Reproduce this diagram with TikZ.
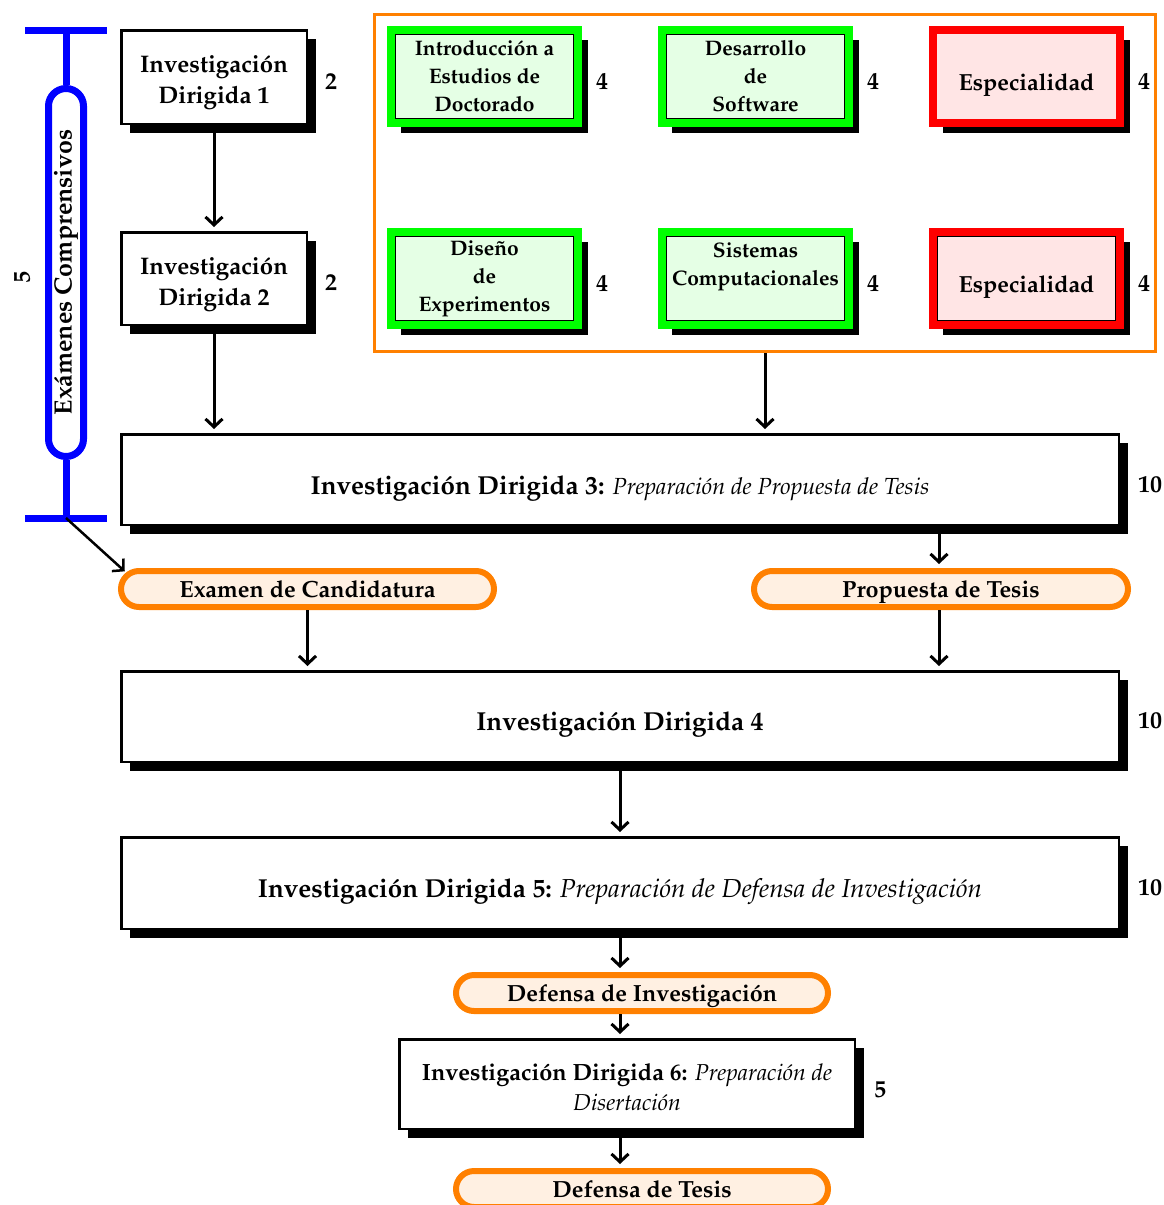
\documentclass[tikz,border=0pt]{standalone}
\usepackage[T1]{fontenc}
\usepackage{mathpazo}
\usetikzlibrary{shadows,shapes.misc,arrows.meta}
\definecolor{cOrange}{RGB}{255,128,0}
\definecolor{cGreen}{RGB}{0,255,0}
\definecolor{cRed}{RGB}{255,0,0}
\definecolor{cBlue}{RGB}{0,0,255}
\definecolor{fGreen}{RGB}{229,255,229}
\definecolor{fRed}{RGB}{255,229,229}
\definecolor{fOrange}{RGB}{255,240,226}
\newcommand\fBig{\fontsize{24}{31}\selectfont\bfseries}
\newcommand\fHuge{\fontsize{26}{31}\selectfont\bfseries}
\newcommand\fSmall{\fontsize{21}{28}\selectfont\bfseries}
\newcommand\fSpec{\fontsize{23.3}{28}\selectfont\bfseries}
\newcommand\fPill{\fontsize{23.4}{28}\selectfont\bfseries}
\newcommand\fExam{\fontsize{25}{30}\selectfont\bfseries}
\newcommand\topstrut[1]{\rule{0pt}{#1}}
\begin{document}
\begin{tikzpicture}[x=1pt,y=-1pt,
  shad/.style={drop shadow={shadow xshift=#1, shadow yshift=-#1, opacity=1, fill=black}},
  idbox/.style={draw=black, line width=2.5pt, fill=white, align=center, font=\fBig, inner sep=0pt, shad=9pt},
  coursebase/.style={line width=8pt, align=center, font=\fSmall, inner sep=0pt,
    minimum width=187pt, minimum height=93pt, shad=10pt},
  inline/.style={path picture={\draw[black,line width=1.2pt]
    ([shift={(4.6pt,-4.6pt)}]path picture bounding box.north west) rectangle
    ([shift={(-4.6pt,4.6pt)}]path picture bounding box.south east);}},
  greenc/.style={coursebase, draw=cGreen, fill=fGreen, inline},
  redc/.style={coursebase, draw=cRed, fill=fRed, font=\fSpec, text height=27pt, text depth=0pt},
  pill/.style={rounded rectangle, draw=cOrange, line width=6pt, fill=fOrange, font=\fPill,
    minimum height=36pt, inner sep=0pt, minimum width=#1, text height=17.5pt, text depth=0pt},
  num/.style={font=\fBig, inner sep=0pt},
  arr/.style={line width=3pt, -{Straight Barb[length=8pt,width=17pt]}, shorten >=4pt},
  blueline/.style={draw=cBlue, line width=7pt}
]
\useasboundingbox (0,0) rectangle (1163,1205);

% left bracket
\node[rounded rectangle, draw=cBlue, line width=7pt, rotate=90, minimum width=368pt,
  minimum height=35pt, inner sep=0pt, font=\fExam] (exams) at (66,272.5) {Ex\'amenes Comprensivos};
\coordinate (bt1) at (25,30);
\coordinate (bt2) at (107,30);
\coordinate (btm) at (66,30);
\coordinate (bb1) at (25,518);
\coordinate (bb2) at (107,518);
\coordinate (bbm) at (66,518);
\draw[blueline] (bt1) -- (bt2);
\draw[blueline] (btm) -- (exams.east);
\draw[blueline] (exams.west) -- (bbm);
\draw[blueline] (bb1) -- (bb2);
\node[num, rotate=90] (n5a) at (22,277) {5};

% orange frame
\node[draw=cOrange, line width=3pt, minimum width=781pt, minimum height=337pt, inner sep=0pt] (frame) at (765,183) {};

% ID boxes
\node[idbox, minimum width=185.5pt, minimum height=93.5pt] (id1) at (214,77) {\topstrut{29pt}Investigaci\'on\\Dirigida 1};
\node[idbox, minimum width=185.5pt, minimum height=92.5pt] (id2) at (214,278.5) {\topstrut{29pt}Investigaci\'on\\Dirigida 2};
\node[num] (n2a) at (331,82) {2};
\node[num] (n2b) at (331,283) {2};

% courses
\node[greenc] (c11) at (484.5,76.5) {Introducci\'on a\\Estudios de\\Doctorado};
\node[greenc] (c12) at (755.5,76.5) {Desarrollo\\de\\Software};
\node[redc] (c13) at (1026.5,76.5) {Especialidad};
\node[greenc] (c21) at (484.5,278.5) {Dise\~no\\de\\Experimentos};
\node[greenc] (c22) at (755.5,278.5) {Sistemas\\Computacionales\\\phantom{X}};
\node[redc, inline] (c23) at (1026.5,278.5) {Especialidad};
\node[num] (n4a) at (602,82) {4};
\node[num] (n4b) at (873,82) {4};
\node[num] (n4c) at (1144,82) {4};
\node[num] (n4d) at (602,284) {4};
\node[num] (n4e) at (873,284) {4};
\node[num] (n4f) at (1144,284) {4};

% big boxes
\node[idbox, font=\fHuge, text height=29pt, text depth=0pt, minimum width=997.5pt, minimum height=90.5pt] (id3) at (620,479.5)
  {Investigaci\'on Dirigida 3: {\fontsize{23.3}{28}\selectfont\mdseries\itshape Preparaci\'on de Propuesta de Tesis}};
\node[num] (n10a) at (1150,485) {10};
\node[pill=373pt] (exam) at (307.5,589) {Examen de Candidatura};
\node[pill=374pt] (prop) at (941,589) {Propuesta de Tesis};
\node[idbox, font=\fHuge, text height=27pt, text depth=0pt, minimum width=997.5pt, minimum height=90.5pt] (id4) at (620,716.5) {Investigaci\'on Dirigida 4};
\node[num] (n10b) at (1150,721) {10};
\node[idbox, font=\fHuge, text height=28pt, text depth=0pt, minimum width=997.5pt, minimum height=91.5pt] (id5) at (620,883)
  {Investigaci\'on Dirigida 5: {\mdseries\itshape Preparaci\'on de Defensa de Investigaci\'on}};
\node[num] (n10c) at (1150,888) {10};
\node[pill=372pt] (definv) at (642,993) {Defensa de Investigaci\'on};
\node[idbox, font=\fontsize{23.5}{30}\selectfont\bfseries, minimum width=455.5pt, minimum height=89.5pt] (id6) at (627,1084)
  {\topstrut{23pt}Investigaci\'on Dirigida 6: {\fontsize{23}{30}\selectfont\mdseries\itshape Preparaci\'on de}\\{\fontsize{23}{30}\selectfont\mdseries\itshape Disertaci\'on}};
\node[num] (n5b) at (880,1090) {5};
\node[pill=372pt] (deftes) at (642,1189) {Defensa de Tesis};

% arrows
\draw[arr] (id1.south) -- (id2.north);
\draw[arr] (id2.south) -- (id2.south |- id3.north);
\draw[arr] (frame.south) -- (frame.south |- id3.north);
\draw[arr, line width=2.5pt, shorten >=1pt] (bbm) -- ([shift={(-182,-17)}]exam.center);
\draw[arr] (exam.south) -- (exam.south |- id4.north);
\draw[arr] ([xshift=-2pt]prop.north |- id3.south) -- ([xshift=-2pt]prop.north);
\draw[arr] ([xshift=-2pt]prop.south) -- ([xshift=-2pt]prop.south |- id4.north);
\draw[arr] (id4.south) -- (id5.north);
\draw[arr] (id5.south) -- (id5.south |- definv.north);
\draw[arr] (definv.south -| id5.south) -- (id5.south |- id6.north);
\draw[arr] (id6.south -| id5.south) -- (id5.south |- deftes.north);
\end{tikzpicture}
\end{document}
